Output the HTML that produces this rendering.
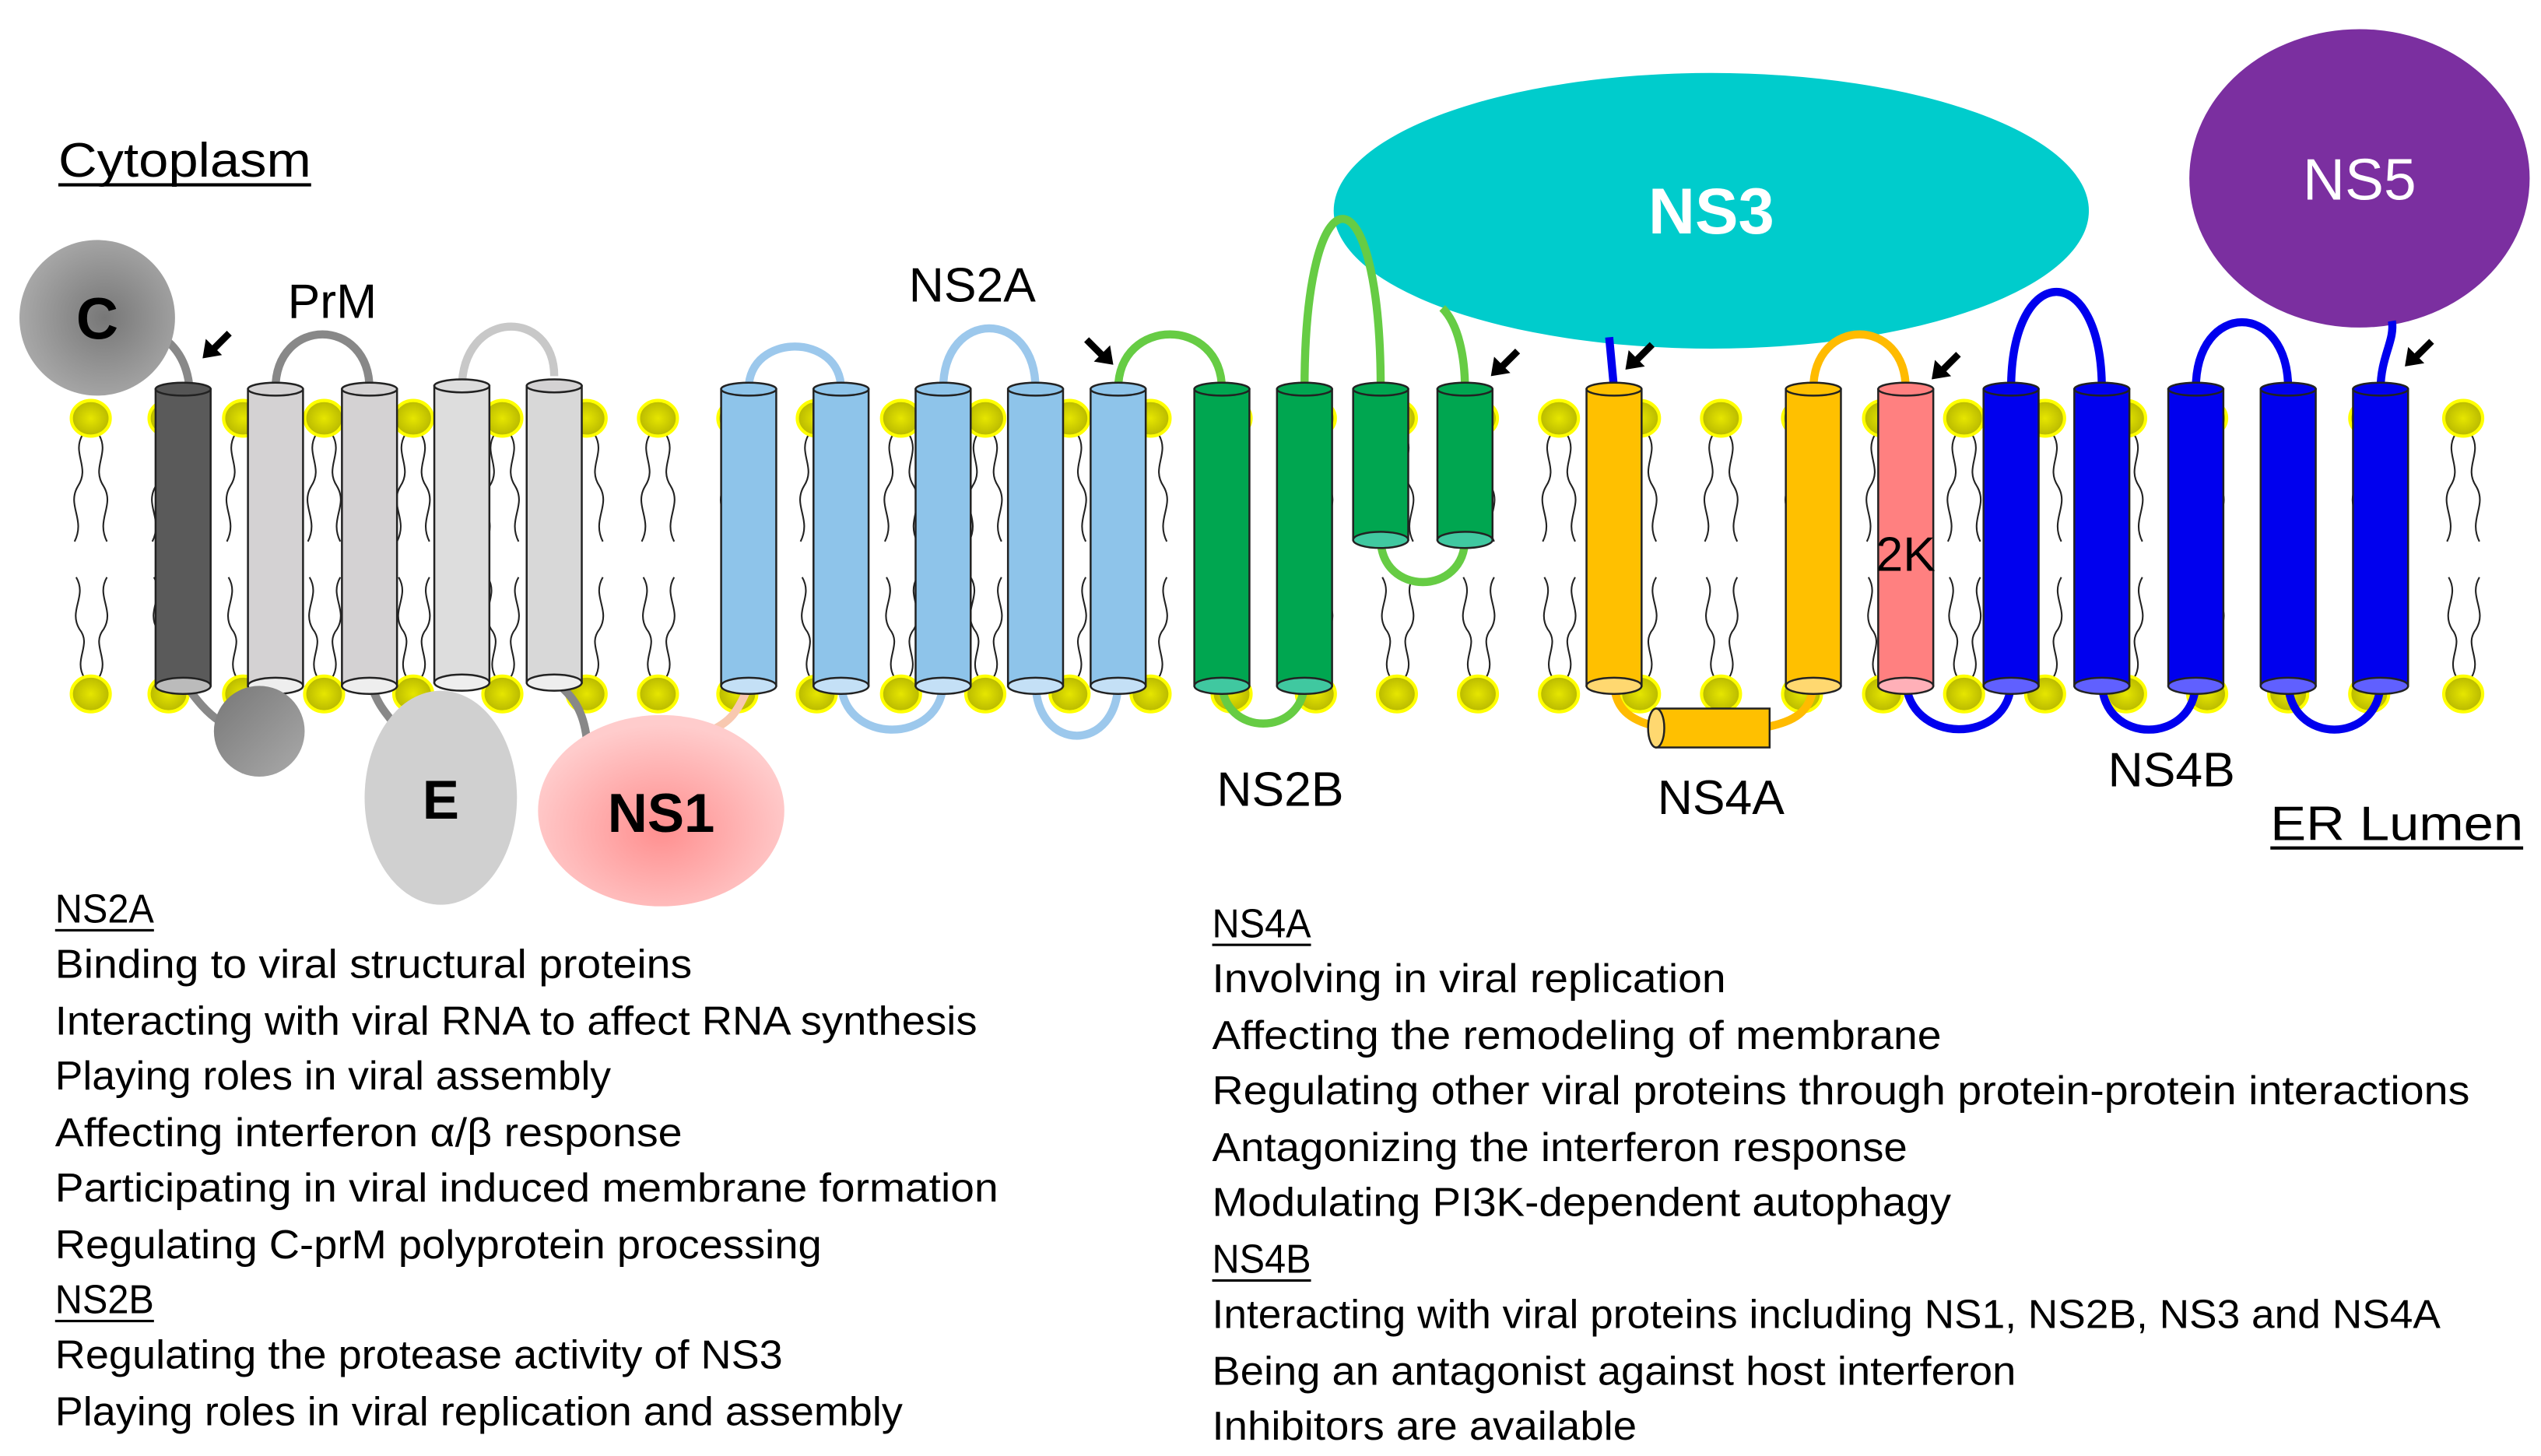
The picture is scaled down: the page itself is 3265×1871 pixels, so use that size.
<!DOCTYPE html>
<html><head><meta charset="utf-8"><style>
html,body{margin:0;padding:0;background:#fff}
svg{display:block}
text{font-family:"Liberation Sans",sans-serif}
</style></head><body>
<svg width="3265" height="1871" viewBox="0 0 1568 898" preserveAspectRatio="none" xmlns="http://www.w3.org/2000/svg">
<defs>
<radialGradient id="yg" cx="50%" cy="50%" r="50%"><stop offset="0" stop-color="#e6e600"/><stop offset="1" stop-color="#b8b800"/></radialGradient>
<radialGradient id="cg" cx="55%" cy="50%" r="55%"><stop offset="0" stop-color="#777"/><stop offset="1" stop-color="#a8a8a8"/></radialGradient>
<linearGradient id="sg" x1="0" y1="0" x2="1" y2="1"><stop offset="0" stop-color="#777"/><stop offset="1" stop-color="#aaa"/></linearGradient>
<radialGradient id="pg" cx="50%" cy="60%" r="55%"><stop offset="0" stop-color="#ff8f8f"/><stop offset="1" stop-color="#fcc"/></radialGradient>
<g id="lt"><path d="M-5 10 c-7 12 5 20 -3 32 c-7 12 5 20 -2 34 M5 10 c7 12 -5 20 3 32 c7 12 -5 20 2 34" fill="none" stroke="#222" stroke-width="1"/><ellipse cx="0" cy="0" rx="12" ry="11" fill="url(#yg)" stroke="#ff0" stroke-width="2"/></g>
<g id="lb"><path d="M-4 -10 c-7 -12 5 -20 -3 -30 c-7 -12 5 -20 -2 -32 M5 -10 c7 -12 -5 -20 3 -30 c7 -12 -5 -20 2 -32" fill="none" stroke="#222" stroke-width="1"/><ellipse cx="0" cy="0" rx="12" ry="11" fill="url(#yg)" stroke="#ff0" stroke-width="2"/></g>
<g id="ar"><path d="M0 0 L2 -12 L12 -2 Z"/><path d="M5 -7 L15 -17 L18 -14 L8 -4 Z"/></g>
</defs>
<g>
<use href="#lt" x="56" y="258"/><use href="#lt" x="104" y="258"/><use href="#lt" x="150" y="258"/><use href="#lt" x="200" y="258"/><use href="#lt" x="255" y="258"/><use href="#lt" x="310" y="258"/><use href="#lt" x="362" y="258"/><use href="#lt" x="406" y="258"/><use href="#lt" x="455" y="258"/><use href="#lt" x="504" y="258"/><use href="#lt" x="556" y="258"/><use href="#lt" x="608" y="258"/><use href="#lt" x="660" y="258"/><use href="#lt" x="710" y="258"/><use href="#lt" x="760" y="258"/><use href="#lt" x="812" y="258"/><use href="#lt" x="862" y="258"/><use href="#lt" x="912" y="258"/><use href="#lt" x="962" y="258"/><use href="#lt" x="1012" y="258"/><use href="#lt" x="1062" y="258"/><use href="#lt" x="1112" y="258"/><use href="#lt" x="1162" y="258"/><use href="#lt" x="1212" y="258"/><use href="#lt" x="1262" y="258"/><use href="#lt" x="1312" y="258"/><use href="#lt" x="1362" y="258"/><use href="#lt" x="1412" y="258"/><use href="#lt" x="1462" y="258"/><use href="#lt" x="1520" y="258"/>
<use href="#lb" x="56" y="428"/><use href="#lb" x="104" y="428"/><use href="#lb" x="150" y="428"/><use href="#lb" x="200" y="428"/><use href="#lb" x="255" y="428"/><use href="#lb" x="310" y="428"/><use href="#lb" x="362" y="428"/><use href="#lb" x="406" y="428"/><use href="#lb" x="455" y="428"/><use href="#lb" x="504" y="428"/><use href="#lb" x="556" y="428"/><use href="#lb" x="608" y="428"/><use href="#lb" x="660" y="428"/><use href="#lb" x="710" y="428"/><use href="#lb" x="760" y="428"/><use href="#lb" x="812" y="428"/><use href="#lb" x="862" y="428"/><use href="#lb" x="912" y="428"/><use href="#lb" x="962" y="428"/><use href="#lb" x="1012" y="428"/><use href="#lb" x="1062" y="428"/><use href="#lb" x="1112" y="428"/><use href="#lb" x="1162" y="428"/><use href="#lb" x="1212" y="428"/><use href="#lb" x="1262" y="428"/><use href="#lb" x="1312" y="428"/><use href="#lb" x="1362" y="428"/><use href="#lb" x="1412" y="428"/><use href="#lb" x="1462" y="428"/><use href="#lb" x="1520" y="428"/>
</g>
<ellipse cx="1056" cy="130" rx="233" ry="85" fill="#00cccc"/>
<ellipse cx="1456" cy="110" rx="105" ry="92" fill="#7b2fa0"/>
<g fill="none" stroke-width="5">
<path d="M95 205 Q115 215 117 240" stroke="#888"/>
<path d="M170 240 C170 195 228 195 228 240" stroke="#888"/>
<path d="M285 240 C285 190 342 190 342 232" stroke="#c8c8c8"/>
<path d="M462 240 C462 205 519 205 519 240" stroke="#9cc8ec"/>
<path d="M582 240 C582 190 639 190 639 240" stroke="#9cc8ec"/>
<path d="M690 240 C690 195 754 195 754 240" stroke="#66cc44"/>
<path d="M805 240 C805 100 852 100 852 240" stroke="#66cc44"/>
<path d="M904 240 C904 220 900 200 890 190" stroke="#66cc44"/>
<path d="M996 240 L993 208" stroke="#0000ee"/>
<path d="M1119 240 C1119 195 1176 195 1176 240" stroke="#ffbb00"/>
<path d="M1241 240 C1241 160 1297 160 1297 240" stroke="#0000ee"/>
<path d="M1355 240 C1355 185 1412 185 1412 240" stroke="#0000ee"/>
<path d="M1469 240 C1469 220 1478 210 1476 198" stroke="#0000ee"/>
<path d="M113 420 C130 445 140 450 160 452" stroke="#888"/>
<path d="M228 420 C235 440 240 440 245 450" stroke="#888"/>
<path d="M342 420 C355 430 360 440 362 455" stroke="#888"/>
<path d="M462 423 C455 440 450 445 440 450" stroke="#f8c8b0"/>
<path d="M519 420 C519 460 582 460 582 420" stroke="#9cc8ec"/>
<path d="M639 420 C639 465 690 465 690 420" stroke="#9cc8ec"/>
<path d="M754 420 C754 455 805 455 805 420" stroke="#66cc44"/>
<path d="M852 332 C852 368 904 368 904 332" stroke="#66cc44"/>
<path d="M996 420 C996 440 1010 445 1022 448" stroke="#ffbb00"/>
<path d="M1092 448 C1105 445 1119 440 1119 420" stroke="#ffbb00"/>
<path d="M1176 418 C1176 460 1241 460 1241 420" stroke="#0000ee"/>
<path d="M1297 420 C1297 460 1355 460 1355 420" stroke="#0000ee"/>
<path d="M1412 420 C1412 460 1469 460 1469 420" stroke="#0000ee"/>
</g>
<g stroke="#222" stroke-width="1.2">
<g><rect x="96" y="240" width="34" height="183" fill="#5a5a5a"/><ellipse cx="113" cy="240" rx="17" ry="4" fill="#555"/><ellipse cx="113" cy="423" rx="17" ry="5" fill="#bbb"/></g>
<g fill="#d4d2d3"><rect x="153" y="240" width="34" height="183"/><ellipse cx="170" cy="240" rx="17" ry="4"/><ellipse cx="170" cy="423" rx="17" ry="5" fill="#eee"/>
<rect x="211" y="240" width="34" height="183"/><ellipse cx="228" cy="240" rx="17" ry="4"/><ellipse cx="228" cy="423" rx="17" ry="5" fill="#eee"/>
<rect x="268" y="238" width="34" height="183" fill="#ddd"/><ellipse cx="285" cy="238" rx="17" ry="4" fill="#ddd"/><ellipse cx="285" cy="421" rx="17" ry="5" fill="#eee"/>
<rect x="325" y="238" width="34" height="183" fill="#d8d8d8"/><ellipse cx="342" cy="238" rx="17" ry="4"/><ellipse cx="342" cy="421" rx="17" ry="5" fill="#eee"/></g>
<g fill="#8ec4ea"><rect x="445" y="240" width="34" height="183"/><ellipse cx="462" cy="240" rx="17" ry="4"/><ellipse cx="462" cy="423" rx="17" ry="5" fill="#c4e0f6"/>
<rect x="502" y="240" width="34" height="183"/><ellipse cx="519" cy="240" rx="17" ry="4"/><ellipse cx="519" cy="423" rx="17" ry="5" fill="#c4e0f6"/>
<rect x="565" y="240" width="34" height="183"/><ellipse cx="582" cy="240" rx="17" ry="4"/><ellipse cx="582" cy="423" rx="17" ry="5" fill="#c4e0f6"/>
<rect x="622" y="240" width="34" height="183"/><ellipse cx="639" cy="240" rx="17" ry="4"/><ellipse cx="639" cy="423" rx="17" ry="5" fill="#c4e0f6"/>
<rect x="673" y="240" width="34" height="183"/><ellipse cx="690" cy="240" rx="17" ry="4"/><ellipse cx="690" cy="423" rx="17" ry="5" fill="#c4e0f6"/></g>
<g fill="#00a650"><rect x="737" y="240" width="34" height="183"/><ellipse cx="754" cy="240" rx="17" ry="4"/><ellipse cx="754" cy="423" rx="17" ry="5" fill="#40c8a0"/>
<rect x="788" y="240" width="34" height="183"/><ellipse cx="805" cy="240" rx="17" ry="4"/><ellipse cx="805" cy="423" rx="17" ry="5" fill="#40c8a0"/>
<rect x="835" y="240" width="34" height="93"/><ellipse cx="852" cy="240" rx="17" ry="4"/><ellipse cx="852" cy="333" rx="17" ry="5" fill="#40c8a0"/>
<rect x="887" y="240" width="34" height="93"/><ellipse cx="904" cy="240" rx="17" ry="4"/><ellipse cx="904" cy="333" rx="17" ry="5" fill="#40c8a0"/></g>
<g fill="#ffc000"><rect x="979" y="240" width="34" height="183"/><ellipse cx="996" cy="240" rx="17" ry="4"/><ellipse cx="996" cy="423" rx="17" ry="5" fill="#ffd870"/>
<rect x="1102" y="240" width="34" height="183"/><ellipse cx="1119" cy="240" rx="17" ry="4"/><ellipse cx="1119" cy="423" rx="17" ry="5" fill="#ffd870"/></g>
<g fill="#ff8080"><rect x="1159" y="240" width="34" height="183"/><ellipse cx="1176" cy="240" rx="17" ry="4"/><ellipse cx="1176" cy="423" rx="17" ry="5" fill="#ffb0b8"/></g>
<g fill="#0000ee"><rect x="1224" y="240" width="34" height="183"/><ellipse cx="1241" cy="240" rx="17" ry="4"/><ellipse cx="1241" cy="423" rx="17" ry="5" fill="#6060ff"/>
<rect x="1280" y="240" width="34" height="183"/><ellipse cx="1297" cy="240" rx="17" ry="4"/><ellipse cx="1297" cy="423" rx="17" ry="5" fill="#6060ff"/>
<rect x="1338" y="240" width="34" height="183"/><ellipse cx="1355" cy="240" rx="17" ry="4"/><ellipse cx="1355" cy="423" rx="17" ry="5" fill="#6060ff"/>
<rect x="1395" y="240" width="34" height="183"/><ellipse cx="1412" cy="240" rx="17" ry="4"/><ellipse cx="1412" cy="423" rx="17" ry="5" fill="#6060ff"/>
<rect x="1452" y="240" width="34" height="183"/><ellipse cx="1469" cy="240" rx="17" ry="4"/><ellipse cx="1469" cy="423" rx="17" ry="5" fill="#6060ff"/></g>
<g fill="#ffc000"><rect x="1022" y="437" width="70" height="24"/><ellipse cx="1022" cy="449" rx="5" ry="12" fill="#ffd870"/></g>
</g>
<circle cx="60" cy="196" r="48" fill="url(#cg)"/>
<circle cx="160" cy="451" r="28" fill="url(#sg)"/>
<ellipse cx="272" cy="492" rx="47" ry="66" fill="#d0d0d0"/>
<ellipse cx="408" cy="500" rx="76" ry="59" fill="url(#pg)"/>
<g fill="#000">
<use href="#ar" x="125" y="221"/>
<use href="#ar" transform="translate(687,225) scale(-1,1)"/>
<use href="#ar" x="920" y="232"/>
<use href="#ar" x="1003" y="228"/>
<use href="#ar" x="1192" y="234"/>
<use href="#ar" x="1484" y="226"/>
</g>
<text x="36" y="109" font-size="30" textLength="156" lengthAdjust="spacingAndGlyphs">Cytoplasm</text><rect x="36" y="113" width="156" height="2" fill="#000"/>
<text x="60" y="209" font-size="36" font-weight="bold" text-anchor="middle">C</text>
<text x="205" y="196" font-size="30" text-anchor="middle">PrM</text>
<text x="600" y="186" font-size="30" text-anchor="middle">NS2A</text>
<text x="1056" y="144" font-size="40" font-weight="bold" fill="#fff" text-anchor="middle">NS3</text>
<text x="1456" y="123" font-size="36" fill="#fff" text-anchor="middle">NS5</text>
<text x="272" y="505" font-size="34" font-weight="bold" text-anchor="middle">E</text>
<text x="408" y="513" font-size="34" font-weight="bold" text-anchor="middle">NS1</text>
<text x="1176" y="352" font-size="30" text-anchor="middle">2K</text>
<text x="790" y="497" font-size="30" text-anchor="middle">NS2B</text>
<text x="1062" y="502" font-size="30" text-anchor="middle">NS4A</text>
<text x="1340" y="485" font-size="30" text-anchor="middle">NS4B</text>
<text x="1401" y="518" font-size="30" textLength="156" lengthAdjust="spacingAndGlyphs">ER Lumen</text><rect x="1401" y="522" width="156" height="2" fill="#000"/>
<g font-size="25" lengthAdjust="spacingAndGlyphs">
<text x="34" y="569" textLength="61" lengthAdjust="spacingAndGlyphs">NS2A</text><rect x="34" y="573" width="61" height="1.5" fill="#000"/>
<text x="34" y="603" textLength="393" lengthAdjust="spacingAndGlyphs">Binding to viral structural proteins</text>
<text x="34" y="638" textLength="569" lengthAdjust="spacingAndGlyphs">Interacting with viral RNA to affect RNA synthesis</text>
<text x="34" y="672" textLength="343" lengthAdjust="spacingAndGlyphs">Playing roles in viral assembly</text>
<text x="34" y="707" textLength="387" lengthAdjust="spacingAndGlyphs">Affecting interferon α/β response</text>
<text x="34" y="741" textLength="582" lengthAdjust="spacingAndGlyphs">Participating in viral induced membrane formation</text>
<text x="34" y="776" textLength="473" lengthAdjust="spacingAndGlyphs">Regulating C-prM polyprotein processing</text>
<text x="34" y="810" textLength="61" lengthAdjust="spacingAndGlyphs">NS2B</text><rect x="34" y="814" width="61" height="1.5" fill="#000"/>
<text x="34" y="844" textLength="449" lengthAdjust="spacingAndGlyphs">Regulating the protease activity of NS3</text>
<text x="34" y="879" textLength="523" lengthAdjust="spacingAndGlyphs">Playing roles in viral replication and assembly</text>
<text x="748" y="578" textLength="61" lengthAdjust="spacingAndGlyphs">NS4A</text><rect x="748" y="582" width="61" height="1.5" fill="#000"/>
<text x="748" y="612" textLength="317" lengthAdjust="spacingAndGlyphs">Involving in viral replication</text>
<text x="748" y="647" textLength="450" lengthAdjust="spacingAndGlyphs">Affecting the remodeling of membrane</text>
<text x="748" y="681" textLength="776" lengthAdjust="spacingAndGlyphs">Regulating other viral proteins through protein-protein interactions</text>
<text x="748" y="716" textLength="429" lengthAdjust="spacingAndGlyphs">Antagonizing the interferon response</text>
<text x="748" y="750" textLength="456" lengthAdjust="spacingAndGlyphs">Modulating PI3K-dependent autophagy</text>
<text x="748" y="785" textLength="61" lengthAdjust="spacingAndGlyphs">NS4B</text><rect x="748" y="789" width="61" height="1.5" fill="#000"/>
<text x="748" y="819" textLength="758" lengthAdjust="spacingAndGlyphs">Interacting with viral proteins including NS1, NS2B, NS3 and NS4A</text>
<text x="748" y="854" textLength="496" lengthAdjust="spacingAndGlyphs">Being an antagonist against host interferon</text>
<text x="748" y="888" textLength="262" lengthAdjust="spacingAndGlyphs">Inhibitors are available</text>
</g>
</svg>
</body></html>
